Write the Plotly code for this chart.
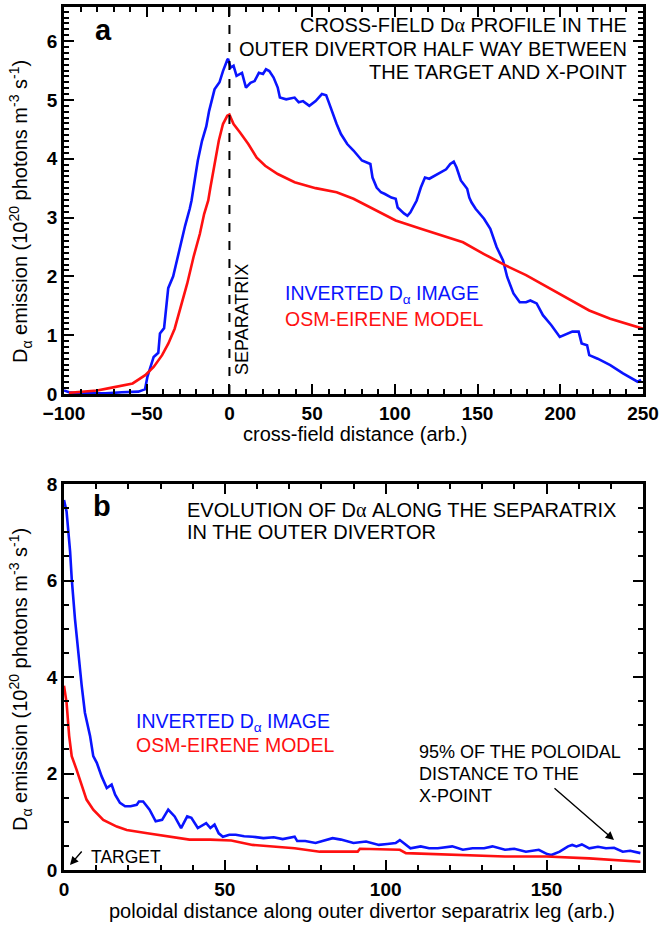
import plotly.graph_objects as go

# ---------------- data ----------------
# Panel a: cross-field profile
a_blue_x = [-100, -97, -92, -85, -75, -65, -60, -55, -52, -51, -49.6, -47, -45.8, -43, -42, -39.5,
            -37, -34, -31.8, -29, -26.8, -24, -22.9, -20.4, -19.1, -16.6, -14, -12.3, -9, -6, -3.9,
            -1.3, -0.8, 0.7, 2.5, 4.3, 6, 7.6, 10, 12.7, 15.2, 17.8, 20.3, 22.1, 24.1, 26.7, 29.2,
            30.5, 34.3, 37, 39.4, 41.9, 44.5, 48.3, 52.1, 55.9, 58.5, 59.8, 62.3, 64.8, 67.4, 71.2,
            75, 80.1, 85.2, 86.5, 89, 91.6, 94, 97.9, 100.5, 101.7, 105.5, 107.6, 109.4, 113.2,
            115.7, 118.2, 120.8, 125.9, 131, 133.5, 135.6, 137.3, 139.9, 143.7, 145, 146.3, 148.8,
            153.9, 157.7, 161.5, 165.4, 167.9, 171.7, 175.5, 179.3, 181.9, 185.7, 189.5, 194.6,
            199.7, 204.8, 207.3, 211.1, 212.9, 216.2, 217.5, 222.6, 230.2, 237.9, 244.2, 246.7,
            248.8]
a_blue_y = [0.06, 0.03, 0.01, 0.01, 0.01, 0.03, 0.03, 0.04, 0.07, 0.08, 0.29, 0.55, 0.63, 0.70,
            1.03, 1.12, 1.80, 2.00, 2.27, 2.60, 2.86, 3.15, 3.29, 3.74, 3.97, 4.30, 4.55, 4.81,
            5.18, 5.30, 5.49, 5.68, 5.70, 5.55, 5.58, 5.41, 5.43, 5.46, 5.21, 5.29, 5.32, 5.46,
            5.44, 5.52, 5.49, 5.38, 5.21, 5.04, 5.01, 5.02, 5.04, 4.96, 4.98, 4.90, 4.98, 5.10,
            5.08, 4.98, 4.78, 4.59, 4.42, 4.25, 4.14, 3.97, 3.91, 3.68, 3.51, 3.43, 3.40, 3.34,
            3.32, 3.17, 3.07, 3.03, 3.09, 3.29, 3.51, 3.68, 3.66, 3.74, 3.82, 3.91, 3.95, 3.85,
            3.63, 3.49, 3.34, 3.26, 3.15, 2.98, 2.81, 2.50, 2.27, 1.99, 1.71, 1.56, 1.56, 1.59,
            1.54, 1.34, 1.17, 0.97, 1.03, 1.06, 1.06, 0.86, 0.83, 0.66, 0.60, 0.49, 0.35, 0.24,
            0.21, 0.24]

a_red_x = [-97, -88, -80, -72.6, -65, -58.5, -50.9, -45.8, -40.7, -36.9, -33.1, -29.3, -25.5,
           -21.7, -17.9, -15.3, -12.8, -11.5, -9, -6.4, -3.9, -1.3, 0, 2.5, 6.3, 11.4, 16.5, 21.6,
           29.2, 39.4, 52.1, 64.8, 75, 85.2, 100.5, 115.7, 128.4, 141.2, 153.9, 166.6, 179.3, 192,
           204.8, 217.5, 230.2, 250]
a_red_y = [0.02, 0.04, 0.06, 0.10, 0.14, 0.18, 0.32, 0.46, 0.66, 0.86, 1.11, 1.48, 1.88, 2.33,
           2.72, 3.06, 3.29, 3.51, 3.91, 4.31, 4.59, 4.73, 4.75, 4.59, 4.45, 4.25, 4.02, 3.88,
           3.74, 3.60, 3.50, 3.43, 3.32, 3.17, 2.95, 2.81, 2.69, 2.58, 2.38, 2.19, 2.02, 1.82,
           1.62, 1.42, 1.28, 1.11]

# Panel b: along the separatrix
b_blue_x = [0, 0.8, 1.9, 2.4, 3.4, 4.5, 5.5, 6.5, 8.1, 9.1, 10.2, 11.7, 13.3, 14.8, 15.9, 17.4,
            19, 20.7, 22.6, 23.3, 24.6, 26.6, 28.5, 30.5, 32.4, 34.4, 36.4, 38.3, 39.6, 41.6,
            44.2, 45.5, 46.8, 48.1, 49.4, 51.4, 53.4, 56, 58.6, 62, 65.2, 68, 71.7, 72.5, 75,
            78.2, 81, 83.5, 86.1, 90, 93.9, 97.9, 100.5, 103.1, 104.4, 105.7, 107.7, 110.9, 113.5,
            116.2, 120.7, 124, 127, 130.6, 133.2, 137.1, 140, 143.6, 147.6, 150.2, 151.5, 154.1,
            156.7, 158, 159.3, 161, 163.3, 166, 168.5, 171, 173.7, 176, 179.2]
b_blue_y = [7.67, 7.43, 6.60, 6.04, 5.21, 4.44, 3.82, 3.26, 2.78, 2.36, 2.22, 1.94, 1.70, 1.77,
            1.56, 1.39, 1.32, 1.32, 1.35, 1.42, 1.42, 1.25, 1.01, 1.04, 1.25, 1.11, 0.87, 1.11,
            1.08, 0.87, 0.97, 0.87, 0.94, 0.76, 0.69, 0.73, 0.73, 0.70, 0.69, 0.66, 0.68, 0.64,
            0.69, 0.60, 0.60, 0.56, 0.62, 0.66, 0.63, 0.56, 0.59, 0.52, 0.54, 0.56, 0.62, 0.56,
            0.45, 0.49, 0.45, 0.45, 0.49, 0.42, 0.45, 0.45, 0.49, 0.42, 0.44, 0.38, 0.42, 0.33,
            0.31, 0.38, 0.49, 0.52, 0.49, 0.53, 0.45, 0.48, 0.45, 0.46, 0.38, 0.40, 0.35]

b_red_x = [0, 0.8, 1.6, 2.4, 3.9, 5.5, 7, 9.1, 12.2, 16.4, 19.5, 25.9, 32.4, 39, 45.5, 52, 58.6,
           65.2, 71.7, 79.5, 91.3, 92, 104.4, 106.3, 124, 137.1, 150, 163.3, 179.2]
b_red_y = [3.82, 3.47, 2.78, 2.36, 2.08, 1.74, 1.46, 1.25, 1.04, 0.90, 0.83, 0.76, 0.69, 0.63,
           0.63, 0.61, 0.52, 0.49, 0.45, 0.38, 0.38, 0.44, 0.42, 0.35, 0.31, 0.28, 0.28, 0.24,
           0.17]

# axis ranges and tick spacing
a_xrange, a_xstep, a_xminor = [-100, 250], 50, 10
a_yrange, a_ystep, a_yminor = [0, 6.58], 1, 0.1
b_xrange, b_xstep, b_xminor = [0, 180], 50, 10
b_yrange, b_ystep, b_yminor = [0, 8], 2, 0.5

# ---------------- layout helpers ----------------
W, H = 660, 926
L, R, T, B = 64, 17, 7, 56
PW, PH = W - L - R, H - T - B
BLUE = "#0a14ff"
RED = "#ff1010"
FONT = "Liberation Sans, Arial, Helvetica, sans-serif"
SERIF_A = "<span style='font-family:Liberation Serif, DejaVu Serif, serif'>α</span>"


def px(xp):
    return (xp - L) / PW


def py(yp):
    return (H - B - yp) / PH


fig = go.Figure()
fig.add_trace(go.Scatter(x=a_blue_x, y=a_blue_y, mode="lines", line=dict(color=BLUE, width=2.6),
                         xaxis="x", yaxis="y", showlegend=False))
fig.add_trace(go.Scatter(x=a_red_x, y=a_red_y, mode="lines", line=dict(color=RED, width=2.6),
                         xaxis="x", yaxis="y", showlegend=False))
fig.add_trace(go.Scatter(x=b_blue_x, y=b_blue_y, mode="lines", line=dict(color=BLUE, width=2.6),
                         xaxis="x2", yaxis="y2", showlegend=False))
fig.add_trace(go.Scatter(x=b_red_x, y=b_red_y, mode="lines", line=dict(color=RED, width=2.6),
                         xaxis="x2", yaxis="y2", showlegend=False))

tickfont = dict(family=FONT, size=19, color="black", weight="bold")


def axis(rng, step, minor_step, domain, anchor):
    return dict(range=rng, tickmode="linear", tick0=rng[0], dtick=step, domain=domain,
                anchor=anchor, automargin=False,
                showline=True, linecolor="black", linewidth=2.5, mirror="allticks",
                ticks="inside", ticklen=10, tickwidth=2, tickcolor="black",
                minor=dict(tickmode="linear", tick0=rng[0], dtick=minor_step, ticks="inside",
                           ticklen=5, tickwidth=1.5, tickcolor="black", showgrid=False),
                showgrid=False, zeroline=False, tickfont=tickfont)


fig.update_layout(
    template="none",
    width=W, height=H, margin=dict(l=L, r=R, t=T, b=B, autoexpand=False),
    paper_bgcolor="white", plot_bgcolor="white",
    font=dict(family=FONT, color="black"),
    xaxis=axis(a_xrange, a_xstep, a_xminor, [0, 1], "y"),
    yaxis=axis(a_yrange, a_ystep, a_yminor, [py(394), 1.0], "x"),
    xaxis2=axis(b_xrange, b_xstep, b_xminor, [0, 1], "y2"),
    yaxis2=axis(b_yrange, b_ystep, b_yminor, [0, py(484)], "x2"),
)

# separatrix marker
fig.add_shape(type="line", xref="x", yref="y", x0=0, x1=0, y0=a_yrange[0], y1=a_yrange[1],
              line=dict(color="black", width=2, dash="dash"))

anns = []


def text(t, xp, yp, xanchor="left", size=20, color="black", weight="normal", angle=0,
         yanchor="middle"):
    anns.append(dict(text=t, x=px(xp), y=py(yp), xref="paper", yref="paper",
                     xanchor=xanchor, yanchor=yanchor, showarrow=False, textangle=angle,
                     font=dict(family=FONT, size=size, color=color, weight=weight)))


def arrow(x_head, y_head, x_tail, y_tail):
    anns.append(dict(text="", x=px(x_head), y=py(y_head), xref="paper", yref="paper",
                     ax=x_tail - x_head, ay=y_tail - y_head, showarrow=True,
                     arrowhead=2, arrowsize=1.2, arrowwidth=1.4, arrowcolor="black"))


# panel a
text("a", 103, 30, xanchor="center", size=29, weight="bold")
text("CROSS-FIELD D" + SERIF_A + " PROFILE IN THE", 629, 25, xanchor="right")
text("OUTER DIVERTOR HALF WAY BETWEEN", 629, 49, xanchor="right")
text("THE TARGET AND X-POINT", 629, 72, xanchor="right")
text("SEPARATRIX", 242, 320, xanchor="center", size=18, angle=-90)
text("INVERTED D<sub>α</sub> IMAGE", 283, 294, size=19.5, color=BLUE)
text("OSM-EIRENE MODEL", 283, 319, size=19.5, color=RED)
text("D<sub>α</sub> emission (10<sup>20</sup> photons m<sup>-3</sup> s<sup>-1</sup>)",
     20, 212, xanchor="center", size=20, angle=-90)
text("cross-field distance (arb.)", 355, 434, xanchor="center", size=20)

# panel b
text("b", 102, 506, xanchor="center", size=29, weight="bold")
text("EVOLUTION OF D" + SERIF_A + " ALONG THE SEPARATRIX", 185, 510)
text("IN THE OUTER DIVERTOR", 185, 532)
text("INVERTED D<sub>α</sub> IMAGE", 134, 722, size=19.5, color=BLUE)
text("OSM-EIRENE MODEL", 134, 745, size=19.5, color=RED)
text("95% OF THE POLOIDAL", 417, 752, size=18)
text("DISTANCE TO THE", 417, 774, size=18)
text("X-POINT", 417, 796, size=18)
arrow(614, 840, 553, 787)
text("TARGET", 89, 857, size=17.5)
arrow(70, 865, 83, 850)
text("D<sub>α</sub> emission (10<sup>20</sup> photons m<sup>-3</sup> s<sup>-1</sup>)",
     20, 680, xanchor="center", size=20, angle=-90)
text("poloidal distance along outer divertor separatrix leg (arb.)", 362, 911,
     xanchor="center", size=20)

fig.update_layout(annotations=anns)
# remove the default 8px page margin so the figure sits at the window's origin
fig.write_html("out.html", config={"displayModeBar": False},
               post_script="document.body.style.margin='0';document.body.style.overflow='hidden';")
